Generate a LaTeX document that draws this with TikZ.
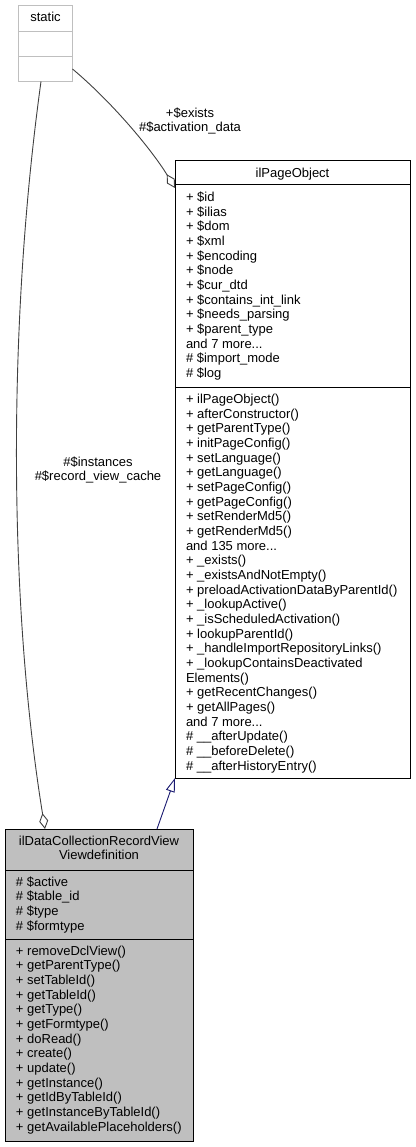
\documentclass[tikz,border=0pt]{standalone}
\usepackage{fontspec}
\setmainfont{Liberation Sans}
\usetikzlibrary{arrows.meta}
\definecolor{boxgray}{RGB}{191,191,191}
\definecolor{edgegray}{RGB}{64,64,64}
\definecolor{navyedge}{RGB}{25,25,112}
\newcommand\mydots{...}
\tikzset{
  cmp/.style={draw, rectangle, anchor=north west, inner sep=0pt, outer sep=0pt, line width=1pt},
  lightcmp/.style={cmp, draw=boxgray, fill=white},
  whitecmp/.style={cmp, draw=black, fill=white},
  graycmp/.style={cmp, draw=black, fill=boxgray},
  txt/.style={inner sep=0pt, outer sep=0pt, anchor=base west, font=\fontsize{13}{14.67}\selectfont},
  ctxt/.style={txt, anchor=base},
  assoc/.style={draw=edgegray, line width=0.9pt, -{Diamond[open, length=16pt, width=9pt]}},
  inherit/.style={draw=navyedge, line width=0.9pt, -{Triangle[open, length=14pt, width=9pt]}}
}
\begin{document}
\begin{tikzpicture}[x=1pt, y=1pt]
\useasboundingbox (0,0) rectangle (415,-1147);
% static
\node[lightcmp, minimum width=54pt, minimum height=26pt] (st1) at (18.5,-5.5) {};
\node[lightcmp, minimum width=54pt, minimum height=25pt] (st2) at (18.5,-31.5) {};
\node[lightcmp, minimum width=54pt, minimum height=25pt] (st3) at (18.5,-56.5) {};
\node[ctxt] (stt) at (45.5,-21.8) {static};
% ilPageObject
\node[whitecmp, minimum width=235pt, minimum height=24pt] (pt) at (175,-161) {};
\node[whitecmp, minimum width=235pt, minimum height=202pt] (pa) at (175,-185) {};
\node[whitecmp, minimum width=235pt, minimum height=391pt] (pm) at (175,-387) {};
\node[ctxt] (ptt) at (292.5,-177.3) {ilPageObject};
\foreach \t [count=\i from 0] in {{+ \$id},{+ \$ilias},{+ \$dom},{+ \$xml},{+ \$encoding},{+ \$node},{+ \$cur\_dtd},{+ \$contains\_int\_link},{+ \$needs\_parsing},{+ \$parent\_type},{and 7 more\mydots},{\# \$import\_mode},{\# \$log}}
  \node[txt] (pa\i) at (186,{-201.5-\i*14.67}) {\t};
\foreach \t [count=\i from 0] in {{+ ilPageObject()},{+ afterConstructor()},{+ getParentType()},{+ initPageConfig()},{+ setLanguage()},{+ getLanguage()},{+ setPageConfig()},{+ getPageConfig()},{+ setRenderMd5()},{+ getRenderMd5()},{and 135 more\mydots},{+ \_exists()},{+ \_existsAndNotEmpty()},{+ preloadActivationDataByParentId()},{+ \_lookupActive()},{+ \_isScheduledActivation()},{+ lookupParentId()},{+ \_handleImportRepositoryLinks()},{+ \_lookupContainsDeactivated},{Elements()},{+ getRecentChanges()},{+ getAllPages()},{and 7 more\mydots},{\# \_\_afterUpdate()},{\# \_\_beforeDelete()},{\# \_\_afterHistoryEntry()}}
  \node[txt] (pm\i) at (186,{-403.5-\i*14.67}) {\t};
% ilDataCollectionRecordViewViewdefinition
\node[graycmp, minimum width=188pt, minimum height=41pt] (dt) at (5,-829) {};
\node[graycmp, minimum width=188pt, minimum height=69pt] (da) at (5,-870) {};
\node[graycmp, minimum width=188pt, minimum height=202pt] (dm) at (5,-939) {};
\node[ctxt] (dtt1) at (99,-845.3) {ilDataCollectionRecordView};
\node[ctxt] (dtt2) at (99,-859.97) {Viewdefinition};
\foreach \t [count=\i from 0] in {{\# \$active},{\# \$table\_id},{\# \$type},{\# \$formtype}}
  \node[txt] (da\i) at (16,{-886-\i*14.67}) {\t};
\foreach \t [count=\i from 0] in {{+ removeDclView()},{+ getParentType()},{+ setTableId()},{+ getTableId()},{+ getType()},{+ getFormtype()},{+ doRead()},{+ create()},{+ update()},{+ getInstance()},{+ getIdByTableId()},{+ getInstanceByTableId()},{+ getAvailablePlaceholders()}}
  \node[txt] (dm\i) at (16,{-955-\i*14.67}) {\t};
% connectors
\coordinate (e1end) at (175,-188);
\draw[assoc] (st3.east) .. controls (112,-102) and (152,-150) .. (e1end);
\node[ctxt] (l1a) at (190,-117.5) {+\$exists};
\node[ctxt] (l1b) at (190,-132) {\#\$activation\_data};
\coordinate (e2s) at (41,-81.5);
\coordinate (e2e) at (45,-829);
\draw[assoc] (e2s) .. controls (8,-320) and (8,-600) .. (e2e);
\node[ctxt] (l2a) at (98,-466) {\#\$instances};
\node[ctxt] (l2b) at (98,-480.7) {\#\$record\_view\_cache};
\coordinate (e3s) at (157,-829);
\draw[inherit] (e3s) -- (pm.south west);
\end{tikzpicture}
\end{document}
